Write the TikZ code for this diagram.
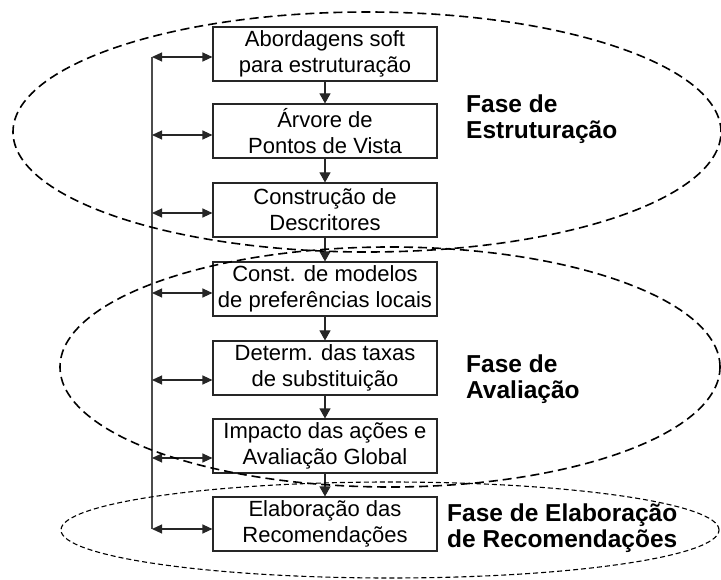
\documentclass[tikz,border=0pt]{standalone}
\usepackage{fontspec}
\setmainfont{Liberation Sans}
\usetikzlibrary{arrows.meta}
\begin{document}
\begin{tikzpicture}[x=1pt,y=-1pt,
  stepbox/.style={draw=black!85,line width=1.1pt,minimum width=224pt,minimum height=54pt,inner sep=0pt,align=center,font=\fontsize{22}{26}\selectfont},
  flow/.style={draw=black!85,line width=1.1pt,-{Triangle[length=10pt,width=11pt]}},
  link/.style={draw=black!85,line width=1.1pt,{Triangle[length=10pt,width=9pt]}-{Triangle[length=10pt,width=9pt]}},
  bus/.style={draw=black!70,line width=1.2pt},
  phase/.style={align=left,anchor=base west,inner sep=0pt,font=\fontsize{24.5}{26}\selectfont\bfseries},
  bigdash/.style={line width=1.6pt,dash pattern=on 9pt off 5pt},
  smalldash/.style={line width=1.1pt,dash pattern=on 5pt off 3pt}]
\useasboundingbox (0,0) rectangle (721,580);
\node[stepbox] (b1) at (325,54) {Abordagens soft\\para estruturação};
\node[stepbox] (b2) at (325,131) {Árvore de\\Pontos de Vista};
\node[stepbox] (b3) at (325,210) {Construção de\\Descritores};
\node[stepbox] (b4) at (325,289) {Const. de modelos\\de preferências locais};
\node[stepbox] (b5) at (325,368) {Determ. das taxas\\de substituição};
\node[stepbox] (b6) at (325,446) {Impacto das ações e\\Avaliação Global};
\node[stepbox] (b7) at (325,524) {Elaboração das\\Recomendações};
\draw[flow] (b1) -- (b2);
\draw[flow] (b2) -- (b3);
\draw[flow] (b3) -- (b4);
\draw[flow] (b4) -- (b5);
\draw[flow] (b5) -- (b6);
\draw[flow] (b6) -- (b7);
\coordinate (l1) at (152,57);
\coordinate (l2) at (152,135);
\coordinate (l3) at (152,213);
\coordinate (l4) at (152,293);
\coordinate (l5) at (152,380);
\coordinate (l6) at (152,458);
\coordinate (l7) at (152,529);
\draw[bus] (l1) -- (l7);
\draw[link] (l1) -- (b1.west |- l1);
\draw[link] (l2) -- (b2.west |- l2);
\draw[link] (l3) -- (b3.west |- l3);
\draw[link] (l4) -- (b4.west |- l4);
\draw[link] (l5) -- (b5.west |- l5);
\draw[link] (l6) -- (b6.west |- l6);
\draw[link] (l7) -- (b7.west |- l7);
\node[phase] (p1) at (466,139) {Fase de\\Estruturação};
\node[phase] (p2) at (466,399) {Fase de\\Avaliação};
\node[phase] (p3) at (447,547) {Fase de Elaboração\\de Recomendações};
\draw[bigdash] (367,132) ellipse [x radius=354pt, y radius=120pt];
\draw[bigdash] (390,367) ellipse [x radius=330pt, y radius=120pt];
\draw[smalldash] (390,530) ellipse [x radius=329pt, y radius=48pt];
\end{tikzpicture}
\end{document}
